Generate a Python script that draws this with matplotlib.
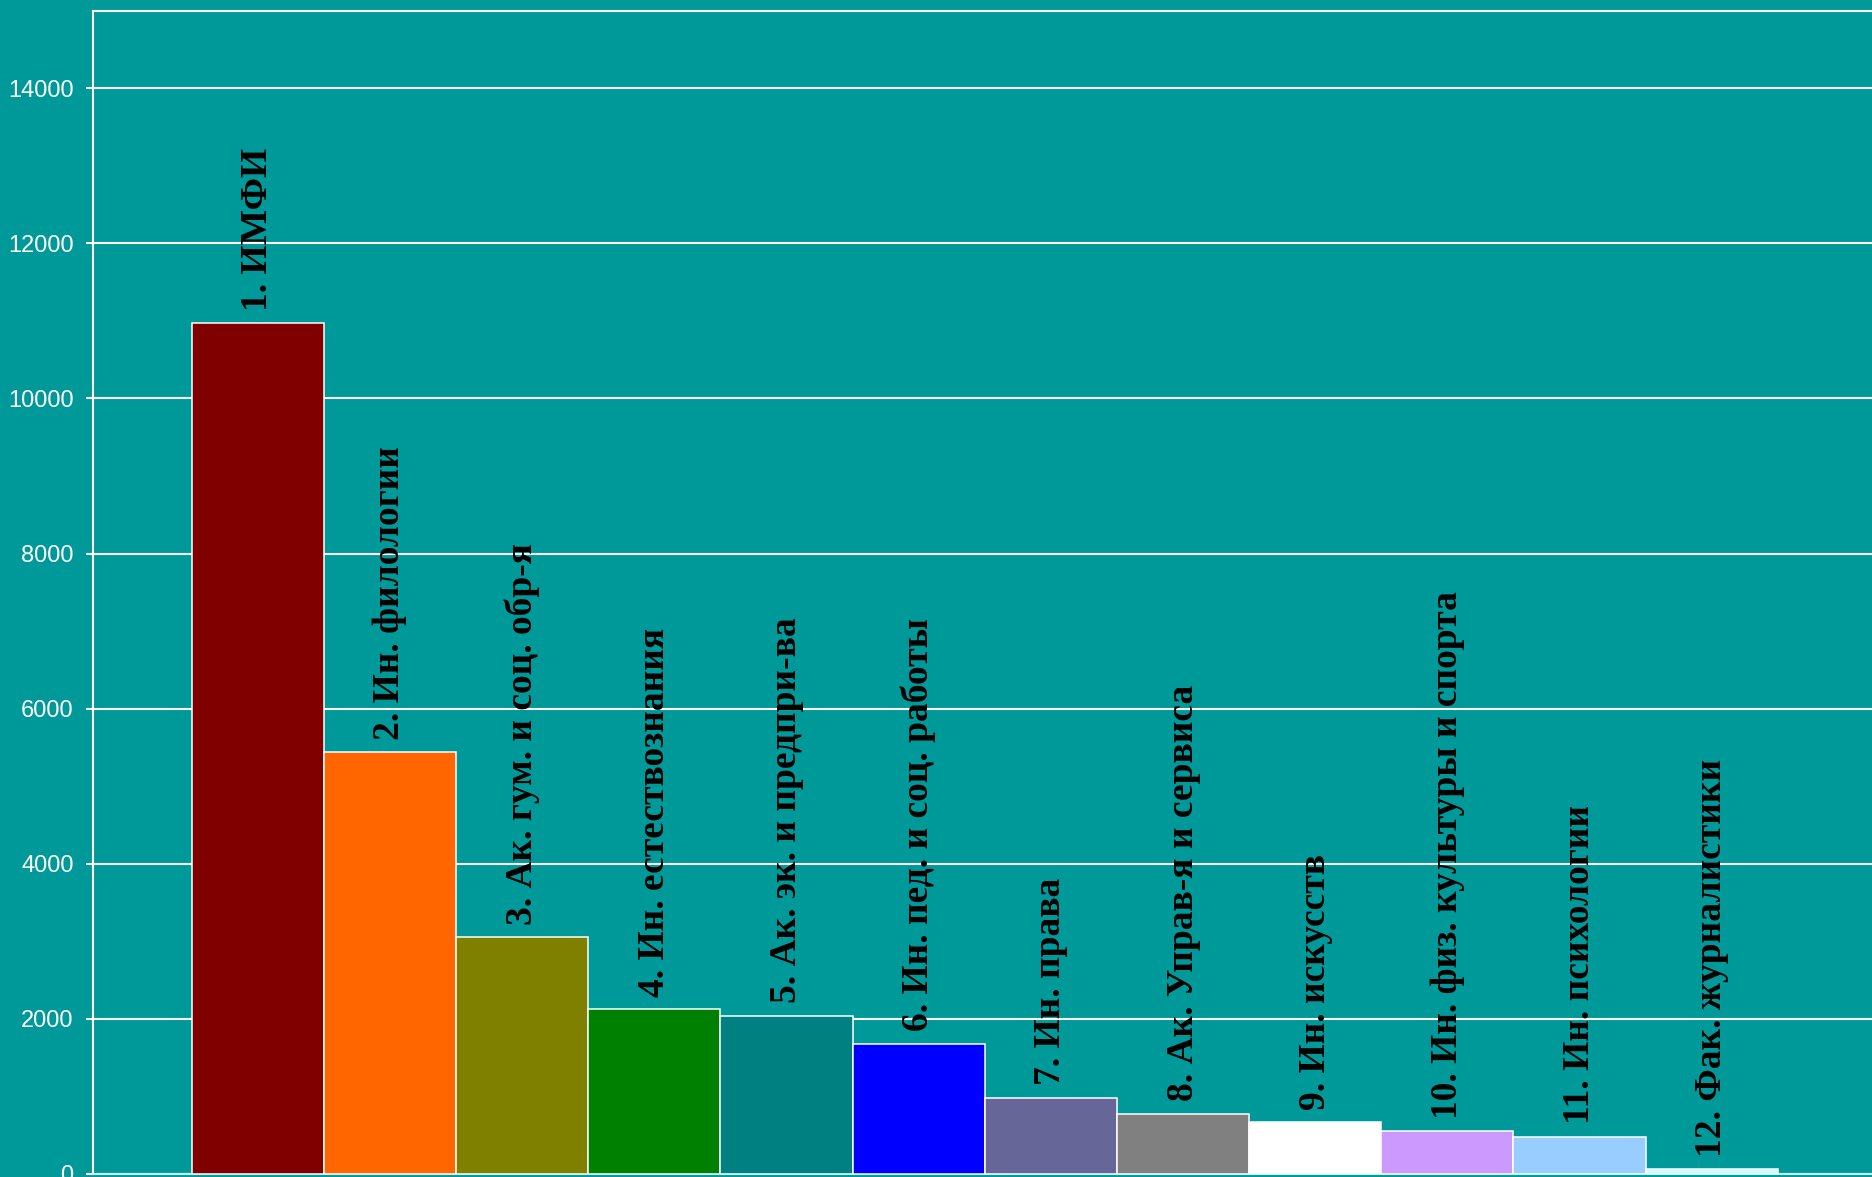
import matplotlib

matplotlib.use("Agg")
import matplotlib.pyplot as plt

# values
labels = [
    "1. ИМФИ",
    "2. Ин. филологии",
    "3. Ак. гум. и соц. обр-я",
    "4. Ин. естествознания",
    "5. Ак. эк. и предпри-ва",
    "6. Ин. пед. и соц. работы",
    "7. Ин. права",
    "8. Ак. Управ-я и сервиса",
    "9. Ин. искусств",
    "10. Ин. физ. культуры и спорта",
    "11. Ин. психологии",
    "12. Фак. журналистики",
]
values = [10970, 5440, 3050, 2125, 2040, 1680, 985, 780, 665, 550, 478, 62]
bar_colors = ["#800000", "#FF6600", "#808000", "#008000", "#008080", "#0000FF",
              "#666699", "#808080", "#FFFFFF", "#CC99FF", "#99CCFF", "#CCFFFF"]
yticks = [0, 2000, 4000, 6000, 8000, 10000, 12000, 14000]

BG = "#009999"
W, H = 1872, 1177

fig = plt.figure(figsize=(W / 100, H / 100), dpi=100, facecolor=BG)
ax = fig.add_axes([93 / W, 3 / H, 1 - 93 / W, (1174 - 10.6) / H])
ax.set_facecolor(BG)

x = list(range(len(values)))
ax.bar(x, values, width=1.0, color=bar_colors, edgecolor="white",
       linewidth=1.1, zorder=3)

# the original renders the labels wide and heavy, bold serif is closest
for xi, v, lab in zip(x, values, labels):
    ax.annotate(lab, (xi, v), xytext=(0, 9), textcoords="offset points",
                rotation=90, ha="center", va="bottom", fontsize=27,
                fontweight="bold", family="Liberation Serif", color="black",
                zorder=4)

ax.set_xlim(-1.247, 12.213)
ax.set_ylim(0, 15000)
ax.set_xticks([])
ax.set_yticks(yticks)
ax.set_yticklabels([str(t) for t in yticks], family="Liberation Sans",
                   fontsize=17, color="white")
ax.tick_params(axis="y", direction="out", length=5, width=1.5,
               color="white", pad=9)
ax.grid(axis="y", color="white", linewidth=1.5, zorder=1)

ax.spines["right"].set_visible(False)
for s in ("left", "top"):
    ax.spines[s].set_color("white")
    ax.spines[s].set_linewidth(1.5)
ax.spines["bottom"].set_color("#C8F0F0")
ax.spines["bottom"].set_linewidth(1.5)

fig.savefig("out.png", dpi=100, facecolor=BG)
